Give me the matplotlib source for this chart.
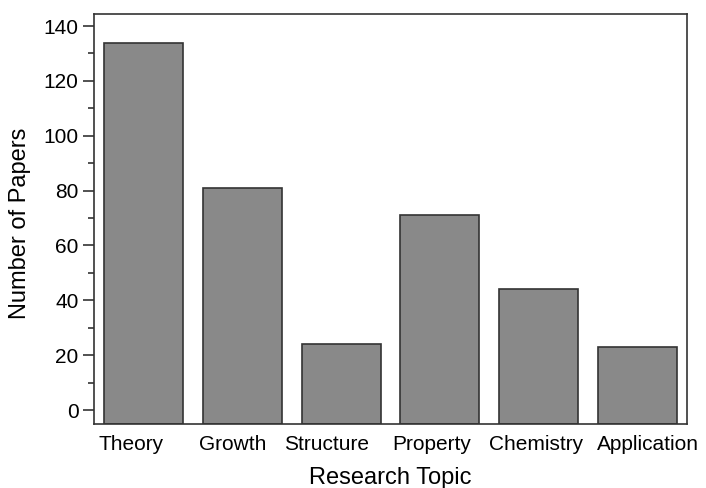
import numpy as np
import matplotlib.pyplot as plt
from matplotlib.ticker import MultipleLocator

topics = ["Theory", "Growth", "Structure", "Property", "Chemistry", "Application"]
papers = np.array([134, 81, 24, 71, 44, 23])

plt.rcParams['font.family'] = ['Liberation Sans', 'DejaVu Sans']

fig = plt.figure(figsize=(7.06, 4.88), dpi=100)
ax = fig.add_axes([94/706, 64/488, 593/706, 410/488])

# bars run down to the bottom frame, below the zero line
ymin, ymax = -5.1, 144.4
x = np.arange(len(topics))
ax.bar(x, papers - ymin, bottom=ymin, width=0.8,
       color="#898989", edgecolor="#333333", linewidth=1.2)

ax.set_xlim(-0.5, 5.5)
ax.set_ylim(ymin, ymax)
# category labels sit slightly off the bar centres
label_shift = np.array([-0.12, -0.10, -0.15, -0.08, -0.03, 0.10])
ax.set_xticks(x + label_shift)
ax.set_xticklabels(topics)
ax.tick_params(axis='x', length=0, labelsize=15, pad=8)
ax.yaxis.set_major_locator(MultipleLocator(20))
ax.yaxis.set_minor_locator(MultipleLocator(10))
ax.tick_params(axis='y', which='major', length=8, width=1.2, labelsize=15,
               color="#333333", pad=3)
ax.tick_params(axis='y', which='minor', length=4, width=1.2, color="#333333")

for s in ax.spines.values():
    s.set_color("#333333")
    s.set_linewidth(1.2)

ax.set_xlabel("Research Topic", fontsize=17, labelpad=9)
ax.set_ylabel("Number of Papers", fontsize=17)
ax.yaxis.set_label_coords(-0.106, 0.49)

fig.savefig("out.png", dpi=100)
